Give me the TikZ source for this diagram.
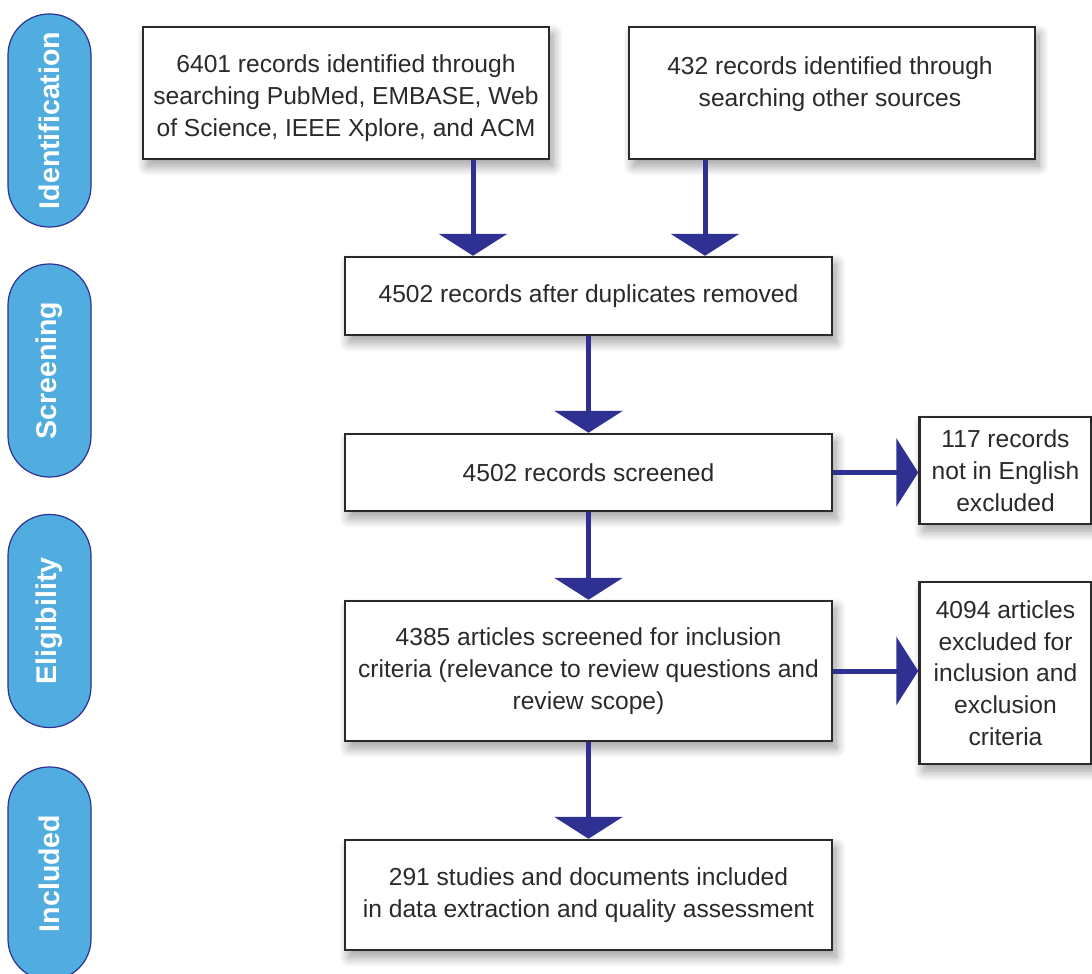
\documentclass[tikz,border=0pt]{standalone}
\usepackage{fontspec}
\setmainfont{Liberation Sans}
\usetikzlibrary{arrows.meta,shadows.blur}
\definecolor{arrowblue}{HTML}{2E3192}
\definecolor{pillblue}{HTML}{51ACE0}
\definecolor{boxtext}{HTML}{2A2A2A}
\tikzset{
  boxfont/.style={font=\fontsize{24.6}{31.8}\selectfont},
  boxnode/.style={draw=boxtext, line width=2.5pt, fill=white, inner sep=0pt,
    align=center, text=boxtext, boxfont,
    blur shadow={shadow xshift=4pt, shadow yshift=-7pt, shadow blur radius=10pt, shadow blur steps=14, shadow opacity=40}},
  boxlabel/.style={align=center, text=boxtext, boxfont, inner sep=0pt},
  pill/.style={draw=arrowblue, line width=1.2pt, fill=pillblue, rounded corners=41pt,
    minimum width=83pt, minimum height=213pt, inner sep=0pt},
  pilltext/.style={rotate=90, text=white, font=\fontsize{28.5}{30}\selectfont\bfseries},
  arr/.style={draw=arrowblue, line width=5pt, -{Triangle[width=68pt,length=22pt]}},
}
\begin{document}
\begin{tikzpicture}[x=1pt,y=-1pt]
\useasboundingbox (0,0) rectangle (1092,974);
% stage pills
\node[pill] (p1) at (49.5,120.5) {};
\node[pilltext] (p1t) at (p1.center) {Identification};
\node[pill] (p2) at (49.5,370.5) {};
\node[pilltext] (p2t) at (p2.center) {Screening};
\node[pill] (p3) at (49.5,621) {};
\node[pilltext] (p3t) at (p3.center) {Eligibility};
\node[pill] (p4) at (49.5,873.5) {};
\node[pilltext] (p4t) at (p4.center) {Included};
% boxes
\node[boxnode, minimum width=406pt, minimum height=132pt] (A) at (346,93) {};
\node[boxlabel] (At) at (346,98)
  {6401 records identified through\\searching PubMed, EMBASE, Web\\of Science, IEEE Xplore, and ACM};
\node[boxnode, minimum width=406pt, minimum height=132pt] (B) at (832,93) {};
\node[boxlabel] (Bt) at (830,84)
  {432 records identified through\\searching other sources};
\node[boxnode, minimum width=487pt, minimum height=78pt] (C) at (588.5,296)
  {4502 records after duplicates removed};
\node[boxnode, minimum width=487pt, minimum height=77pt] (D) at (588.5,472.5)
  {4502 records screened};
\node[boxnode, minimum width=487pt, minimum height=140pt] (E) at (588.5,671)
  {4385 articles screened for inclusion\\criteria (relevance to review questions and\\review scope)};
\node[boxnode, minimum width=487pt, minimum height=110pt] (F) at (588.5,895)
  {291 studies and documents included\\in data extraction and quality assessment};
\node[boxnode, minimum width=172pt, minimum height=107pt] (G) at (1005.5,470.5)
  {117 records\\not in English\\excluded};
\node[boxnode, minimum width=172pt, minimum height=182pt] (H) at (1005.5,673)
  {4094 articles\\excluded for\\inclusion and\\exclusion\\criteria};
% arrows
\draw[arr] ([xshift=127pt]A.south) -- ([xshift=127pt]A.south |- C.north);
\draw[arr] ([xshift=-127pt]B.south) -- ([xshift=-127pt]B.south |- C.north);
\draw[arr] (C.south) -- (D.north);
\draw[arr] (D.south) -- (E.north);
\draw[arr] (E.south) -- (F.north);
\draw[arr] (D.east) -- (D.east -| G.west);
\draw[arr] (E.east) -- (E.east -| H.west);
\end{tikzpicture}
\end{document}
